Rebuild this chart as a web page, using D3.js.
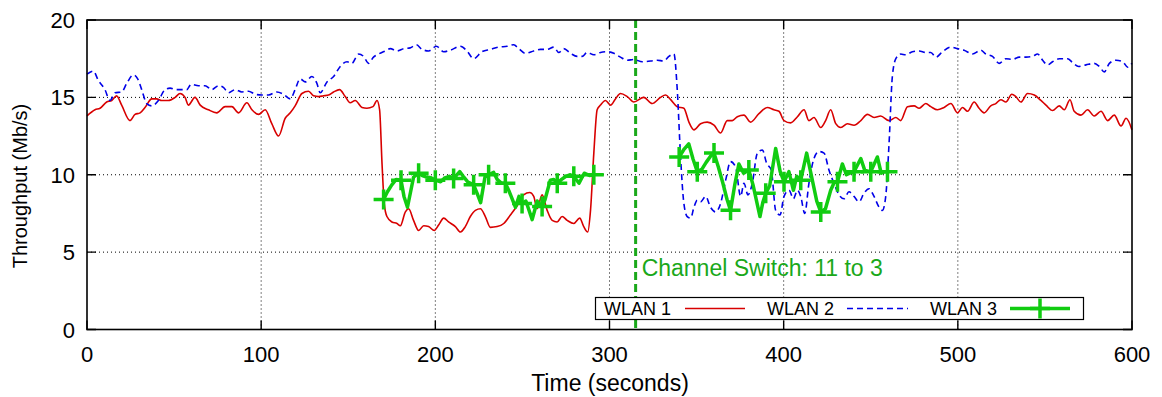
<!DOCTYPE html>
<html><head><meta charset="utf-8">
<script src="https://cdn.jsdelivr.net/npm/d3@7"></script>
<style>body{margin:0;background:#fff}svg{display:block}text{font-family:"Liberation Sans",Arial,sans-serif;fill:#000}</style>
</head><body><svg id="c" width="1162" height="397"></svg>
<script>
const xTicks=[0,100,200,300,400,500,600];
const xTickLabels=["0","100","200","300","400","500","600"];
const yTicks=[0,5,10,15,20];
const yTickLabels=["0","5","10","15","20"];
const seriesNames=["WLAN 1","WLAN 2","WLAN 3"];
const switchTime=315;
const switchLabel="Channel Switch: 11 to 3";

const wlan1Time=[0,4.6,7.5,11.3,14.2,17,19.9,24.7,27.6,30.5,33.3,37.2,40,42.9,46.7,50.6,53.4,56.3,58.2,62,65,69.7,74.5,79.3,83.2,87,91.8,94.7,98.5,102.3,106.1,110,113.8,116.7,119.5,123.4,127.2,130.1,133,135.8,138.7,141.6,145,148.3,151.1,154,157.9,160.7,164.2,166.5,168,169.4,170.7,172.2,175.1,178,179.9,182.8,184.7,187.5,190.4,193.3,196.1,199.4,201.9,204.8,207.6,211.5,214.4,217.2,220.1,223,225.9,228.7,231.6,235.5,239.3,243.1,247,250.7,254.2,256.5,258.4,261.3,264.2,267.1,269.9,272.8,275.7,279.5,282.9,285.2,287.5,289.1,291,292.9,294.8,297.7,300.6,303.4,306.3,310.2,314,319.7,324.5,329.3,332.2,335,338.9,342.7,345.6,348.5,352.3,356.1,360,363.8,367.6,370.5,373.4,377.2,381,385.8,390.6,394.4,397.3,400.2,404,407.9,411.7,414.5,417.4,421.3,424.1,427,429.9,432.8,436.6,440.4,444.3,448.1,451.9,455.7,460.5,464.4,467.2,471.1,474.9,477.8,481.6,484.5,488.3,492.1,496,499.8,502.7,505.6,509.4,512.2,515.1,518.9,521.8,524.7,527.6,531,533.3,536.2,540,543.9,547.7,550.6,554.4,558.2,561.1,564.4,566.8,570.7,574.5,578.3,582.2,586,589.8,593.7,596.6,600];
const wlan1Tput=[13.8,14.2,14.3,14.7,14.8,15.1,14.5,13.5,13.9,14.0,14.35,14.9,14.9,14.8,14.8,15.0,15.25,15.0,14.5,15.0,14.5,14.2,14.0,14.4,14.4,14.0,14.65,14.2,13.9,14.2,13.3,12.5,13.65,14.0,14.45,15.25,15.4,15.1,15.05,15.1,15.15,15.35,15.5,15.05,14.65,14.8,14.35,14.3,14.4,14.8,14.2,10.7,8.1,7.3,6.95,6.85,6.7,7.6,7.8,7.05,6.4,6.7,6.65,6.4,6.75,7.2,6.95,6.65,6.3,6.65,7.3,7.7,7.8,7.3,6.6,6.65,6.85,7.4,8.0,8.7,8.85,8.6,7.8,8.7,7.7,7.05,6.95,7.3,7.05,6.85,7.2,6.65,6.3,7.7,11.4,14.2,14.5,14.8,14.5,14.9,15.25,15.05,14.7,15.0,14.6,15.0,15.15,14.87,14.4,14.3,13.4,12.9,13.3,13.4,13.2,12.7,13.5,13.5,13.75,13.85,13.4,13.95,14.35,14.2,14.1,13.5,13.35,13.75,14.2,13.5,13.7,13.05,13.5,14.2,13.3,13.05,13.3,13.2,13.5,13.9,13.7,13.8,13.5,13.7,13.5,14.4,14.45,14.3,14.6,14.4,14.2,14.35,14.6,14.0,14.35,14.1,14.7,14.3,14.0,14.45,14.6,14.85,14.7,15.2,15.05,14.7,15.25,15.15,14.8,14.5,14.15,14.45,14.2,14.85,14.1,13.85,14.2,13.8,14.1,13.5,13.85,13.15,13.65,12.9];

const wlan2Time=[0,3.6,6.5,10.3,13.2,16.1,19.9,22.8,26.6,29.1,31.4,34.3,37.2,41,44.8,47.7,51,54.4,57.3,59.8,64,67.8,71.6,75.5,78.3,81.2,85.1,88.9,92.7,96.6,100.4,104.2,109,112.8,116.7,119.5,122.4,125.3,129.1,132,133.9,137.8,141.6,145.4,149.3,152.1,155.9,158.8,161.7,164.5,167.4,171.3,174.1,178,181.8,185.6,189.1,192.4,196.2,200.6,204.8,208.6,214.4,218.2,222,226.8,231.6,236.4,241.2,245,247.9,251.7,256.5,260.3,264.2,268,270.9,273.7,277.6,281.4,284.3,287.2,291,294.8,298.7,302.5,306.3,310.2,314,318.8,323.6,327.4,331.2,334.1,337,338.9,340.8,342.7,344.6,346.6,348.5,350.4,352.3,355.2,358,360.9,363.8,366.7,369.5,372.4,375.3,377.2,379.5,382,384.9,387.8,390.2,392.9,395.4,397.9,400.2,403.1,405.6,407.9,409.8,412.1,414.5,417.4,420.3,423.2,426,428.9,431.8,434.7,437.5,440.4,443.3,446.1,449,451.9,454.8,456.7,458.6,460.5,462.4,464.4,467.2,470,473.9,477.8,481.6,484.5,487.4,491.2,496,499.8,503.6,508.4,513.2,516,519.9,523.7,527.6,531.4,535.2,539.1,542.9,545.8,548.7,551.5,554.4,558.2,563,565.9,569.4,573.6,578.3,581.2,584.1,587,590.8,594.7,597.5,600];
const wlan2Tput=[16.5,16.7,16.1,15.5,14.8,15.3,15.35,15.9,16.45,16.2,15.5,14.6,14.45,14.8,15.5,15.6,15.5,15.5,15.5,15.85,15.75,15.75,15.5,15.75,15.65,15.3,15.5,15.35,15.4,15.2,15.15,15.15,15.35,15.2,14.9,15.5,16.2,16.0,16.35,15.9,15.3,16.0,16.35,17.0,17.3,17.2,17.8,17.65,17.2,17.6,17.8,18.0,18.15,18.0,18.15,18.2,18.4,18.1,18.0,18.3,17.95,18.05,18.3,18.0,17.5,17.95,18.1,18.25,18.3,18.4,18.15,17.85,18.0,18.1,18.1,18.25,17.9,18.15,17.85,17.65,17.65,17.9,17.75,17.9,17.95,17.85,17.6,17.4,17.45,17.3,17.35,17.4,17.35,17.65,17.8,15.5,11.15,8.15,7.3,7.2,7.9,8.35,8.25,8.6,7.9,7.6,8.15,9.65,10.85,10.5,8.6,9.45,8.7,9.45,11.4,11.6,10.75,10.3,7.7,7.4,8.6,9.0,8.45,9.0,8.6,7.5,9.45,11.05,11.5,11.4,10.3,9.45,8.7,8.45,8.9,8.6,8.25,8.8,9.1,8.6,7.9,7.7,8.6,12.0,16.35,17.5,17.8,17.75,17.95,18.0,17.9,17.9,17.6,17.95,18.25,18.15,18.05,17.8,18.05,17.8,17.65,17.2,17.5,17.45,17.6,17.6,17.65,17.8,17.4,17.1,17.3,17.5,17.5,17.25,17.0,17.1,17.2,17.0,16.65,17.2,17.4,17.3,16.95,17.2];

const wlan3aTime=[170.3,172.5,175,177.5,180.3,182,184,187.5,190.4,192.5,195,197.5,200,203,205.5,208,210.5,214,216,218.5,222,224,226,228.5,230.6,233.5,235.5,238,240.2,242.5,246,248,249.8,252,255.6,258.5,261.3,263,266,268,270,272.5,275,277.5,279.5,282.5,285.5,288.5,291];
const wlan3aTput=[8.4,8.9,9.35,9.7,9.65,8.6,7.9,9.85,10.1,9.95,9.85,9.8,9.65,9.55,9.8,9.9,9.75,10.2,9.9,9.55,9.35,8.8,8.2,9.85,10.0,10.15,9.7,9.45,9.45,8.9,7.9,8.6,8.15,8.3,7.1,8.3,7.95,8.4,9.65,9.7,9.45,9.7,9.9,10.0,9.9,9.45,10.1,9.95,10.0];
const wlan3bTime=[340,342.5,345.5,348,350.4,353,355.5,358,360,362.5,365,367.5,369.5,372,374.3,377,380,382.5,386.4,388,389.7,392,395.4,398,400.2,403,405.6,407.5,409.8,413.2,416,419,421.3,424,427,429,430.9,433.7,436,438,440.4,444.3,446.5,448,450,453.8,456,458,459.6];
const wlan3bTput=[11.15,11.6,12.0,11.0,10.2,10.35,10.8,11.2,11.4,10.5,9.5,8.4,7.7,9.4,10.7,10.1,10.3,9.3,7.3,8.2,8.8,9.3,11.7,10.2,9.55,10.2,9.0,9.9,9.65,11.4,9.9,8.3,7.6,7.8,9.0,9.5,9.55,10.7,10.0,10.1,10.2,11.05,10.3,10.25,10.2,11.15,10.1,10.2,10.2];

const colors={w1:"#d80000",w2:"#0000e8",w3:"#11cc11",sw:"#1aa81a"};
const svg=d3.select("#c");
const x=d3.scaleLinear().domain([0,600]).range([87,1132]);
const y=d3.scaleLinear().domain([0,20]).range([329.5,20]);
const FS=22;

// grid
const g=svg.append("g");
g.selectAll(".gx").data(xTicks.slice(1,-1)).join("line").attr("x1",d=>x(d)).attr("x2",d=>x(d)).attr("y1",y(0)).attr("y2",y(20)).attr("stroke","#000").attr("stroke-width",1).attr("stroke-dasharray","1,3");
g.selectAll(".gy").data(yTicks.slice(1,-1)).join("line").attr("y1",d=>y(d)).attr("y2",d=>y(d)).attr("x1",x(0)).attr("x2",x(600)).attr("stroke","#000").attr("stroke-width",1).attr("stroke-dasharray","1,3");

// switch line
svg.append("line").attr("x1",x(switchTime)).attr("x2",x(switchTime)).attr("y1",y(20)).attr("y2",y(0)).attr("stroke",colors.sw).attr("stroke-width",3).attr("stroke-dasharray","8,4");
svg.append("text").attr("x",x(switchTime)+6).attr("y",y(4)+8).attr("font-size",23).style("fill",colors.sw).text(switchLabel);

const sm=d3.line().x(d=>x(d[0])).y(d=>y(d[1])).curve(d3.curveMonotoneX);
const lin=d3.line().x(d=>x(d[0])).y(d=>y(d[1]));
const d1=wlan1Time.map((t,i)=>[t,wlan1Tput[i]]);
const d2=wlan2Time.map((t,i)=>[t,wlan2Tput[i]]);
svg.append("path").attr("d",sm(d1)).attr("fill","none").attr("stroke",colors.w1).attr("stroke-width",1.6);
svg.append("path").attr("d",sm(d2)).attr("fill","none").attr("stroke",colors.w2).attr("stroke-width",1.6).attr("stroke-dasharray","6,4");
[[wlan3aTime,wlan3aTput],[wlan3bTime,wlan3bTput]].forEach(([T,V])=>{
  const d=T.map((t,i)=>[t,V[i]]);
  svg.append("path").attr("d",lin(d)).attr("fill","none").attr("stroke",colors.w3).attr("stroke-width",3.5).attr("stroke-linejoin","round");
  const pts=d.filter((p,i)=>i%4===0);
  svg.append("g").selectAll("path").data(pts).join("path")
    .attr("d",p=>{const cx=x(p[0]),cy=y(p[1]);return `M${cx-10},${cy}H${cx+10}M${cx},${cy-10}V${cy+10}`;})
    .attr("stroke",colors.w3).attr("stroke-width",3.5);
});

// legend
const lg=svg.append("g");
lg.append("rect").attr("x",595.5).attr("y",297.5).attr("width",488).attr("height",22).attr("fill","#fff").attr("stroke","#000").attr("stroke-width",1.2);
const ly=308.5;
const lx=[604,767,930];
seriesNames.forEach((n,i)=>{lg.append("text").attr("x",lx[i]).attr("y",ly+6.5).attr("font-size",18).text(n);});
lg.append("line").attr("x1",685).attr("x2",745).attr("y1",ly).attr("y2",ly).attr("stroke",colors.w1).attr("stroke-width",1.6);
lg.append("line").attr("x1",847).attr("x2",908).attr("y1",ly).attr("y2",ly).attr("stroke",colors.w2).attr("stroke-width",1.6).attr("stroke-dasharray","6,4");
lg.append("line").attr("x1",1010).attr("x2",1070).attr("y1",ly).attr("y2",ly).attr("stroke",colors.w3).attr("stroke-width",3.5);
lg.append("path").attr("d",`M1030,${ly}H1050M1040,${ly-10}V${ly+10}`).attr("stroke",colors.w3).attr("stroke-width",3.5);

// border and ticks
svg.append("rect").attr("x",x(0)).attr("y",y(20)).attr("width",x(600)-x(0)).attr("height",y(0)-y(20)).attr("fill","none").attr("stroke","#000").attr("stroke-width",1.6);
const TK=9;
svg.append("g").selectAll("path").data(xTicks).join("path").attr("d",d=>`M${x(d)},${y(0)}v${-TK}M${x(d)},${y(20)}v${TK}`).attr("stroke","#000").attr("stroke-width",1.4);
svg.append("g").selectAll("path").data(yTicks).join("path").attr("d",d=>`M${x(0)},${y(d)}h${TK}M${x(600)},${y(d)}h${-TK}`).attr("stroke","#000").attr("stroke-width",1.4);
svg.append("g").selectAll("text").data(xTicks).join("text").attr("x",d=>x(d)).attr("y",362).attr("text-anchor","middle").attr("font-size",FS).text((d,i)=>xTickLabels[i]);
svg.append("g").selectAll("text").data(yTicks).join("text").attr("x",75).attr("y",d=>y(d)+8).attr("text-anchor","end").attr("font-size",FS).text((d,i)=>yTickLabels[i]);
svg.append("text").attr("x",610).attr("y",391).attr("text-anchor","middle").attr("font-size",23).text("Time (seconds)");
svg.append("text").attr("transform","translate(27,186) rotate(-90)").attr("text-anchor","middle").attr("font-size",20).text("Throughput (Mb/s)");
</script></body></html>
